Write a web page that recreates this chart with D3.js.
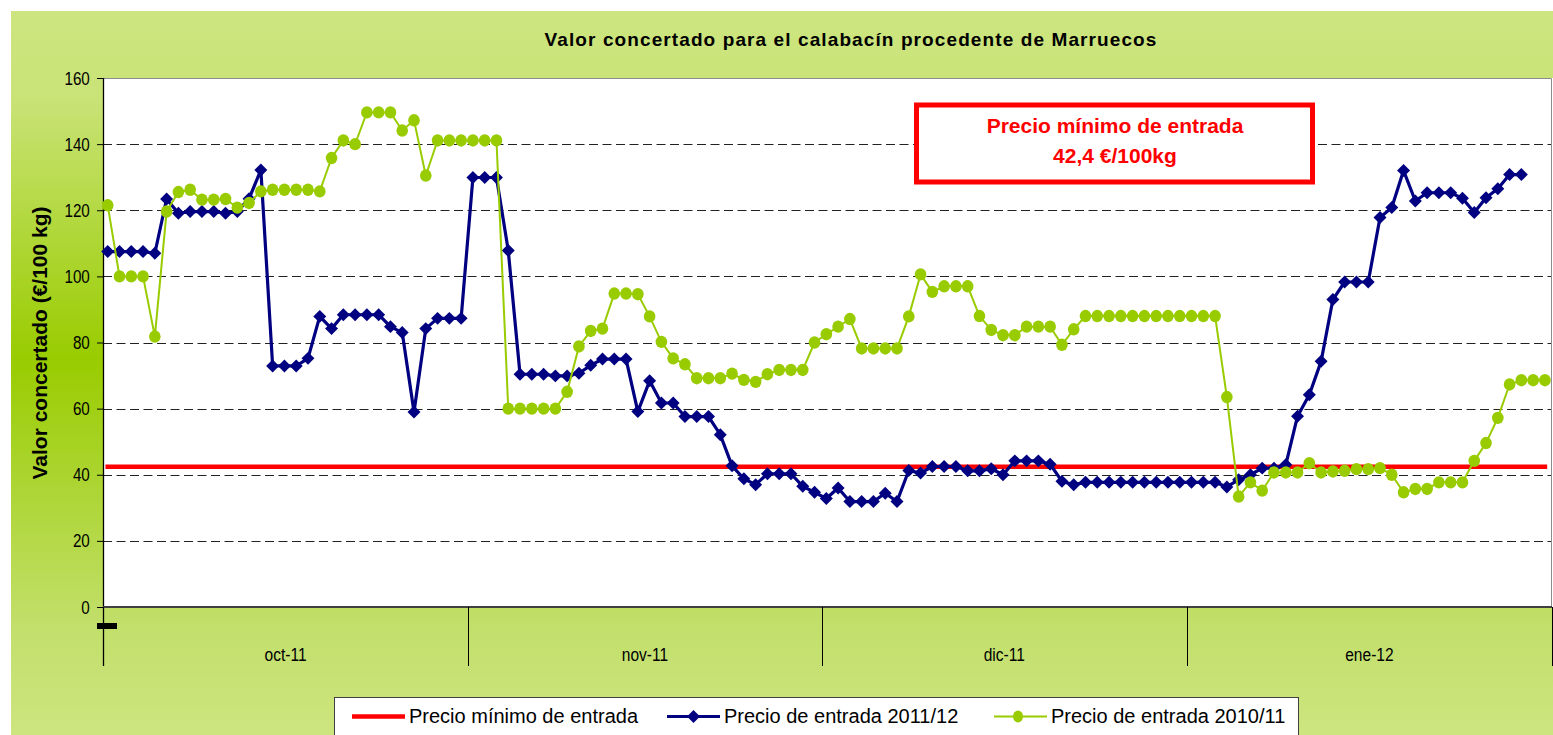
<!DOCTYPE html>
<html>
<head>
<meta charset="utf-8">
<script src="https://cdn.jsdelivr.net/npm/d3@7"></script>
<style>
body { margin: 0; background: #fff; }
text { font-family: "Liberation Sans", Arial, sans-serif; }
</style>
</head>
<body>
<script>
// datos
var titulo = "Valor concertado para el calabacín procedente de Marruecos";
var tituloEjeY = "Valor concertado (€/100 kg)";
var meses = ["oct-11", "nov-11", "dic-11", "ene-12"];
var diasMes = [31, 30, 31, 31];
var yTicks = [0, 20, 40, 60, 80, 100, 120, 140, 160];
var precioMinimo = 42.4;
var nombresSeries = ["Precio mínimo de entrada", "Precio de entrada 2011/12", "Precio de entrada 2010/11"];
var textoCaja = ["Precio mínimo de entrada", "42,4 €/100kg"];

var precio1112 = [
	107.5, 107.5, 107.5, 107.5, 107, 123.4, 119.1, 119.6, 119.6, 119.6,
	119.1, 119.6, 123.5, 132.2, 72.9, 72.9, 72.9, 75.2, 87.9, 84.2,
	88.4, 88.4, 88.4, 88.4, 84.8, 83, 59, 84.2, 87.3, 87.3,
	87.3, 129.9, 129.9, 129.9, 107.8, 70.4, 70.4, 70.4, 69.9, 69.9,
	70.7, 73.1, 75, 75, 75, 59.1, 68.4, 61.7, 61.7, 57.6,
	57.6, 57.6, 52.1, 42.7, 38.8, 37, 40.3, 40.3, 40.3, 36.5,
	34.7, 32.8, 36, 31.9, 31.9, 31.9, 34.4, 31.9, 41.3, 40.5,
	42.5, 42.5, 42.5, 41.2, 41.2, 41.8, 40, 44.2, 44.2, 44.2,
	43.2, 38, 37, 37.7, 37.7, 37.7, 37.7, 37.7, 37.7, 37.7,
	37.7, 37.7, 37.7, 37.7, 37.7, 36.3, 38.5, 40, 42, 42,
	43, 57.7, 64.2, 74.3, 93, 98.3, 98.3, 98.3, 117.8, 120.8,
	132, 122.8, 125.3, 125.3, 125.3, 123.6, 119.3, 123.8, 126.5, 130.8,
	130.8
];

var precio1011 = [
	121.5, 100, 100, 100, 81.8, 119.6, 125.5, 126.2, 123.2, 123.2,
	123.4, 120.8, 122.2, 125.7, 126.2, 126.2, 126.2, 126.2, 125.7, 135.8,
	141.1, 140, 149.6, 149.6, 149.6, 144.1, 147.2, 130.5, 141.1, 141.1,
	141.1, 141.1, 141.1, 141.1, 60, 60, 60, 60, 60, 65.1,
	78.8, 83.5, 84.2, 94.8, 94.8, 94.6, 87.9, 80.2, 75.2, 73.4,
	69.2, 69.2, 69.2, 70.6, 68.7, 68.1, 70.4, 71.7, 71.7, 71.7,
	80, 82.5, 84.8, 87.1, 78.2, 78.2, 78.2, 78.2, 87.9, 100.6,
	95.3, 97, 97, 97, 88, 83.8, 82.2, 82.2, 84.8, 84.8,
	84.8, 79.3, 84, 88, 88, 88, 88, 88, 88, 88,
	88, 88, 88, 88, 88, 63.5, 33.4, 37.7, 35.2, 40.7,
	40.7, 40.7, 43.5, 40.7, 41, 41.2, 41.7, 41.7, 42, 40,
	34.7, 35.7, 35.7, 37.7, 37.7, 37.7, 44.2, 49.6, 57.2, 67.3,
	68.6, 68.6, 68.6
];

var svg;
var svgWidth = 1553;
var svgHeight = 735;
var plot = {left: 103, top: 78, right: 1552, bottom: 607};
var colRojo = "#ff0000", colAzul = "#000080", colVerde = "#99cc00";

var totalDias = d3.sum(diasMes);
var xScale = d3.scaleLinear().domain([0, totalDias]).range([plot.left, plot.right]);
var yScale = d3.scaleLinear().domain([0, 160]).range([plot.bottom, plot.top]);
function xDia(i) { return xScale(i + 0.4); }

iniSvg();

// fondo degradado
var defs = svg.append("defs");
var grad = defs.append("linearGradient").attr("id", "fondo")
	.attr("x1", 0).attr("y1", 0).attr("x2", 0).attr("y2", 1);
grad.append("stop").attr("offset", "0%").attr("stop-color", "#cde57f");
grad.append("stop").attr("offset", "12%").attr("stop-color", "#c9e377");
grad.append("stop").attr("offset", "48%").attr("stop-color", "#99cc00");
grad.append("stop").attr("offset", "85%").attr("stop-color", "#c2df6b");
grad.append("stop").attr("offset", "100%").attr("stop-color", "#cde57f");

svg.append("rect").attr("x", 11).attr("y", 11)
	.attr("width", svgWidth - 11).attr("height", svgHeight - 11)
	.attr("fill", "url(#fondo)");

// area de trazado
svg.append("rect").attr("x", plot.left).attr("y", plot.top)
	.attr("width", svgWidth - plot.left).attr("height", plot.bottom - plot.top)
	.attr("fill", "#fff");
svg.append("path")
	.attr("d", "M" + plot.left + "," + (plot.top + 0.5) + "H" + (plot.right - 0.5) + "V" + plot.bottom)
	.attr("fill", "none").attr("stroke", "#8c8c8c").attr("stroke-width", 1);

// rejilla
svg.append("g").selectAll("line")
	.data(yTicks.filter(function(d) { return d > 0 && d < 160; }))
	.enter().append("line")
	.attr("x1", plot.left).attr("x2", plot.right - 1)
	.attr("y1", function(d) { return Math.round(yScale(d)) + 0.5; })
	.attr("y2", function(d) { return Math.round(yScale(d)) + 0.5; })
	.attr("stroke", "#222").attr("stroke-width", 1)
	.attr("stroke-dasharray", "9,4.5");

// eje Y
var yAxis = d3.axisLeft(yScale).tickValues(yTicks).tickSize(6).tickPadding(10.5);
var gY = svg.append("g").attr("transform", "translate(" + plot.left + ",0)").call(yAxis);
gY.select(".domain").remove();
gY.selectAll(".tick line").attr("stroke", "#000");
gY.selectAll(".tick text")
	.attr("font-family", "Liberation Sans, Arial, sans-serif")
	.attr("font-size", 19).attr("fill", "#000")
	.attr("transform", "scale(0.8,1)");

svg.append("line").attr("x1", plot.left + 0.5).attr("x2", plot.left + 0.5)
	.attr("y1", plot.top).attr("y2", 666)
	.attr("stroke", "#000").attr("stroke-width", 1.3);

// eje X (meses)
svg.append("line").attr("x1", plot.left).attr("x2", plot.right)
	.attr("y1", plot.bottom).attr("y2", plot.bottom)
	.attr("stroke", "#404040").attr("stroke-width", 2);

var limites = [0];
diasMes.forEach(function(d, i) { limites.push(limites[i] + d); });

svg.append("g").selectAll("line")
	.data(limites)
	.enter().append("line")
	.attr("x1", function(d) { return Math.round(xScale(d)) + 0.5; })
	.attr("x2", function(d) { return Math.round(xScale(d)) + 0.5; })
	.attr("y1", plot.bottom).attr("y2", 666)
	.attr("stroke", "#000").attr("stroke-width", 1);

svg.append("g").selectAll("text")
	.data(meses)
	.enter().append("text")
	.attr("transform", function(d, i) {
		return "translate(" + xScale((limites[i] + limites[i + 1]) / 2) + ",661) scale(0.84,1)";
	})
	.attr("text-anchor", "middle")
	.attr("font-size", 18.5).attr("fill", "#000")
	.text(function(d) { return d; });

// marca negra bajo el eje
svg.append("rect").attr("x", 97).attr("y", 623).attr("width", 20).attr("height", 6).attr("fill", "#000");

// titulos
svg.append("text").attr("x", 851).attr("y", 46)
	.attr("text-anchor", "middle").attr("font-weight", "bold")
	.attr("font-size", 19).attr("letter-spacing", 1.1)
	.text(titulo);

svg.append("text")
	.attr("transform", "translate(47,343) rotate(-90)")
	.attr("text-anchor", "middle").attr("font-weight", "bold")
	.attr("font-size", 21)
	.text(tituloEjeY);

// caja precio minimo
svg.append("rect").attr("x", 916.5).attr("y", 105)
	.attr("width", 396).attr("height", 77)
	.attr("fill", "#fff").attr("stroke", colRojo).attr("stroke-width", 5);
svg.append("g").selectAll("text")
	.data(textoCaja)
	.enter().append("text")
	.attr("x", 1115).attr("y", function(d, i) { return 133 + i * 30; })
	.attr("text-anchor", "middle").attr("font-weight", "bold")
	.attr("font-size", 21).attr("fill", colRojo)
	.text(function(d) { return d; });

// series
var linea = d3.line()
	.x(function(d, i) { return xDia(i); })
	.y(function(d) { return yScale(d); });

var minimo = precio1011.map(function() { return precioMinimo; });

svg.append("path").datum(minimo)
	.attr("d", linea)
	.attr("fill", "none").attr("stroke", colRojo)
	.attr("stroke-width", 4.5).attr("stroke-linecap", "square");

svg.append("path").datum(precio1112)
	.attr("d", linea)
	.attr("fill", "none").attr("stroke", colAzul).attr("stroke-width", 3.2)
	.attr("stroke-linejoin", "round");

var diamante = d3.symbol().type(d3.symbolSquare).size(84);
svg.append("g").selectAll("path")
	.data(precio1112)
	.enter().append("path")
	.attr("d", diamante)
	.attr("transform", function(d, i) {
		return "translate(" + xDia(i) + "," + yScale(d) + ") rotate(45)";
	})
	.attr("fill", colAzul);

svg.append("path").datum(precio1011)
	.attr("d", linea)
	.attr("fill", "none").attr("stroke", colVerde).attr("stroke-width", 2);

svg.append("g").selectAll("ellipse")
	.data(precio1011)
	.enter().append("ellipse")
	.attr("cx", function(d, i) { return xDia(i); })
	.attr("cy", function(d) { return yScale(d); })
	.attr("rx", 5.8).attr("ry", 6.2)
	.attr("fill", colVerde);

// leyenda
var leyenda = svg.append("g");
leyenda.append("rect").attr("x", 334.5).attr("y", 697.5)
	.attr("width", 964).attr("height", 60)
	.attr("fill", "#fff").attr("stroke", "#404040").attr("stroke-width", 1);

var leyX = [352, 667, 994];
var leyColor = [colRojo, colAzul, colVerde];
var leyAncho = [4.5, 3.2, 2];

nombresSeries.forEach(function(nombre, i) {
	var x0 = leyX[i];
	leyenda.append("line")
		.attr("x1", x0).attr("x2", x0 + 53)
		.attr("y1", 716.5).attr("y2", 716.5)
		.attr("stroke", leyColor[i]).attr("stroke-width", leyAncho[i]);
	if (i == 1) {
		leyenda.append("path").attr("d", diamante)
			.attr("transform", "translate(" + (x0 + 26.5) + ",716.5) rotate(45)")
			.attr("fill", colAzul);
	}
	if (i == 2) {
		leyenda.append("ellipse").attr("cx", x0 + 24).attr("cy", 716.5)
			.attr("rx", 5).attr("ry", 6).attr("fill", colVerde);
	}
	leyenda.append("text")
		.attr("x", x0 + 57).attr("y", 723)
		.attr("font-size", 20).attr("fill", "#000")
		.text(nombre);
});

// svg画布
function iniSvg() {
	svg = d3.select("body")
		.append("svg")
		.attr("width", svgWidth)
		.attr("height", svgHeight);
	return svg;
}
</script>
</body>
</html>
